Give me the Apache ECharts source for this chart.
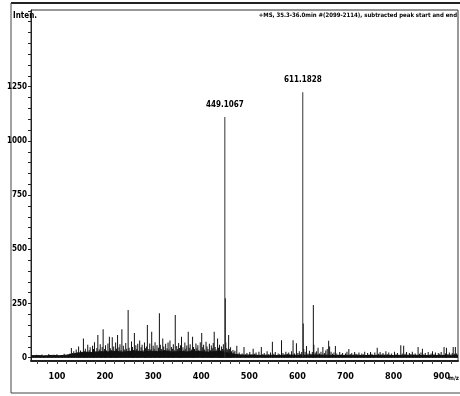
<!DOCTYPE html>
<html><head><meta charset="utf-8">
<script src="https://cdn.jsdelivr.net/npm/echarts@6/dist/echarts.min.js"></script>
<style>html,body{margin:0;padding:0;background:#fff}#c{width:460px;height:396px}</style>
</head><body><div id="c"></div>
<script>
// Tick labels
const xTickLabels = [100,200,300,400,500,600,700,800,900];
const yTickLabels = [0,250,500,750,1000,1250];
// Labeled main peaks
const peakNames = ['449.1067','611.1828'];
const peakMz = [449.1067, 611.1828];
const peakInt = [1110, 1225];
// Noise floor (m/z, intensity)
const floorMz = [46,60,75,90,105,120,130,145,160,175,190,205,220,235,250,265,280,295,310,325,340,355,370,385,400,415,430,445,460,475,490,505,520,540,560,580,600,620,640,660,680,700,720,740,760,780,800,820,840,860,880,900,920,934];
const floorInt = [9,10,8,11,9,12,16,22,26,24,28,27,30,26,29,31,27,30,28,32,26,29,27,30,28,26,29,27,20,14,12,13,11,12,10,13,11,12,13,12,10,11,12,10,11,12,10,11,12,10,11,10,12,10];
// Stick spectrum (m/z, intensity)
const sticks = [
[47,8],[50,12],[52,6],[55,10],[58,14],[61,7],[63,11],[66,9],[69,15],[72,6],[74,10],[77,13],[80,8],[83,17],[86,9],[88,12],[91,7],[94,14],[97,10],[100,16],[103,8],[106,11],[109,13],[112,7],[115,18],[118,10],[121,14],[124,9],[127,20],
[130,45],[132,22],[135,30],[137,18],[140,38],[142,25],[145,52],[147,20],[149,34],[152,28],[155,89],[157,30],[159,42],[162,24],[164,60],[167,35],[169,48],[171,26],[174,55],[176,40],[178,72],[181,30],[183,45],[185,105],[188,38],[190,62],[192,28],[194,50],[196,131],[199,40],[201,58],[203,33],[206,66],[209,97],[211,44],[213,36],[215,94],[218,52],[220,30],[222,70],[224,41],[226,105],[229,48],[231,62],[233,35],[235,131],[238,55],[240,38],[243,68],[245,42],[248,220],[250,46],[252,32],[255,75],[257,50],[259,36],[261,114],[264,58],[266,40],[268,64],[270,30],[272,80],[275,48],[277,60],[279,35],[282,70],[284,44],[286,52],[288,151],[291,40],[293,66],[295,38],[297,120],[300,55],[302,42],[304,72],[306,33],[308,58],[311,46],[313,205],[315,60],[317,40],[320,89],[322,52],[324,36],[326,64],[329,44],[331,70],[333,38],[335,80],[338,50],[340,42],[342,62],[344,35],[346,197],[349,54],[351,40],[353,68],[355,45],[357,58],[359,97],[362,48],[364,36],[366,70],[368,42],[370,56],[373,120],[375,46],[377,62],[380,38],[382,97],[384,50],[386,40],[389,66],[391,44],[393,58],[395,36],[398,72],[401,114],[403,48],[405,60],[407,38],[410,74],[412,52],[414,40],[417,64],[419,35],[421,56],[423,44],[425,68],[427,120],[429,50],[431,38],[434,89],[436,46],[438,60],[440,34],[442,52],[444,40],[446,62],[447.5,36],[450.1,275],[451.1,70],[453,44],[455,38],[457,105],[459,40],[461,48],[463,30],[466,36],[468,25],[470,32],[474,55],
[476,18],[479,24],[482,12],[485,20],[489,50],[492,15],[495,22],[498,10],[501,26],[504,14],[508,42],[511,18],[514,24],[517,12],[520,28],[525,50],[528,16],[531,22],[534,11],[537,30],[540,15],[544,24],[548,74],[551,18],[554,26],[557,12],[560,20],[563,16],[567,81],[570,22],[573,14],[576,28],[579,18],[582,24],[585,12],[588,30],[591,81],[594,20],[598,67],[601,22],[604,30],[607,18],[609,26],[612.19,158],[613.2,40],[616,28],[619,54],[622,20],[625,32],[628,18],[631,26],[633.17,243],[634.2,60],[637,24],[640,30],[643,46],[646,20],[649,28],[653,50],[656,22],[659,34],[662,40],[665,78],[667,52],[670,28],[673,18],[676,24],[679,54],[682,20],[685,14],[688,26],[691,16],[694,22],[697,12],[700,20],[703,28],[707,40],[710,16],[713,22],[716,12],[719,26],[722,18],[725,14],[728,24],[731,11],[734,20],[737,16],[740,28],[743,12],[746,22],[749,15],[752,26],[755,18],[758,12],[761,24],[766,46],[769,18],[772,26],[775,14],[778,22],[781,12],[784,30],[787,16],[790,24],[793,14],[796,20],[799,12],[802,28],[805,16],[808,22],[811,14],[815,58],[818,20],[821,55],[824,18],[827,26],[830,12],[833,22],[836,16],[839,28],[842,14],[845,20],[848,12],[851,50],[854,18],[857,24],[860,42],[863,16],[866,22],[869,12],[872,26],[875,14],[878,20],[881,30],[884,16],[887,24],[890,12],[893,22],[896,18],[899,26],[902,14],[905,50],[908,20],[910,46],[913,16],[916,24],[919,12],[922,22],[924,50],[927,18],[928.5,50],[931,20],[933,14]
];

const narrow = '"Liberation Sans Narrow", "DejaVu Sans Condensed", "Liberation Sans", sans-serif';
const xTicks = []; for (let v = 60; v <= 920; v += 20) xTicks.push(v);
const yTicks = []; for (let v = 0; v <= 1600; v += 50) yTicks.push(v);

const chart = echarts.init(document.getElementById('c'), null, {renderer:'canvas'});
chart.setOption({
  animation: false,
  backgroundColor: '#fff',
  grid: {left: 31, right: 2, top: 10, bottom: 35, show: true, borderColor: '#333', borderWidth: 1,
         containLabel: false, outerBoundsMode: 'none'},
  xAxis: {
    type: 'value', min: 46, max: 934,
    axisLine: {onZero: false, lineStyle: {color: '#222', width: 2}},
    axisTick: {show: true, customValues: xTicks, length: 3, lineStyle: {color: '#444'}},
    axisLabel: {customValues: xTickLabels, margin: 11, fontFamily: narrow, fontWeight: 'bold', fontSize: 9, color: '#000',
                formatter: v => String(v)},
    splitLine: {show: false}
  },
  yAxis: {
    type: 'value', min: -15, max: 1604,
    axisLine: {show: true, lineStyle: {color: '#222', width: 1}},
    axisTick: {show: true, customValues: yTicks, length: 3, lineStyle: {color: '#222'}},
    axisLabel: {customValues: yTickLabels, margin: 4, fontFamily: narrow, fontWeight: 'bold', fontSize: 8, color: '#000',
                formatter: v => String(v)},
    splitLine: {show: false}
  },
  series: [
    {type: 'line', data: floorMz.map((m, i) => [m, floorInt[i]]), symbol: 'none',
     lineStyle: {color: '#111', width: 1}, areaStyle: {color: '#111', opacity: 1}, z: 2},
    {type: 'bar', data: sticks, barWidth: 1, itemStyle: {color: '#111'}, z: 3},
    {type: 'bar', data: peakMz.map((m, i) => [m, peakInt[i]]), barWidth: 1, barGap: '-100%',
     itemStyle: {color: '#333'}, z: 4,
     label: {show: true, position: 'top', distance: 8, formatter: p => peakNames[p.dataIndex],
             fontFamily: narrow, fontWeight: 'bold', fontSize: 8, color: '#000'}}
  ],
  graphic: [
    {type: 'line', shape: {x1: 11, y1: 3, x2: 460, y2: 3}, style: {stroke: '#222', lineWidth: 2}},
    {type: 'line', shape: {x1: 11, y1: 3, x2: 11, y2: 393}, style: {stroke: '#444', lineWidth: 1}},
    {type: 'line', shape: {x1: 11, y1: 393, x2: 460, y2: 393}, style: {stroke: '#444', lineWidth: 1}},
    {type: 'text', left: 13, top: 12, style: {text: 'Inten.', fontFamily: narrow, fontWeight: 'bold', fontSize: 8, fill: '#000'}},
    {type: 'text', right: 3, top: 12, style: {text: '+MS, 35.3-36.0min #(2099-2114), subtracted peak start and end', fontFamily: narrow, fontWeight: 'bold', fontSize: 6, fill: '#000'}},
    {type: 'text', right: 1, top: 375, style: {text: 'm/z', fontFamily: narrow, fontWeight: 'bold', fontSize: 6, fill: '#000'}}
  ]
});
</script>
</body></html>
